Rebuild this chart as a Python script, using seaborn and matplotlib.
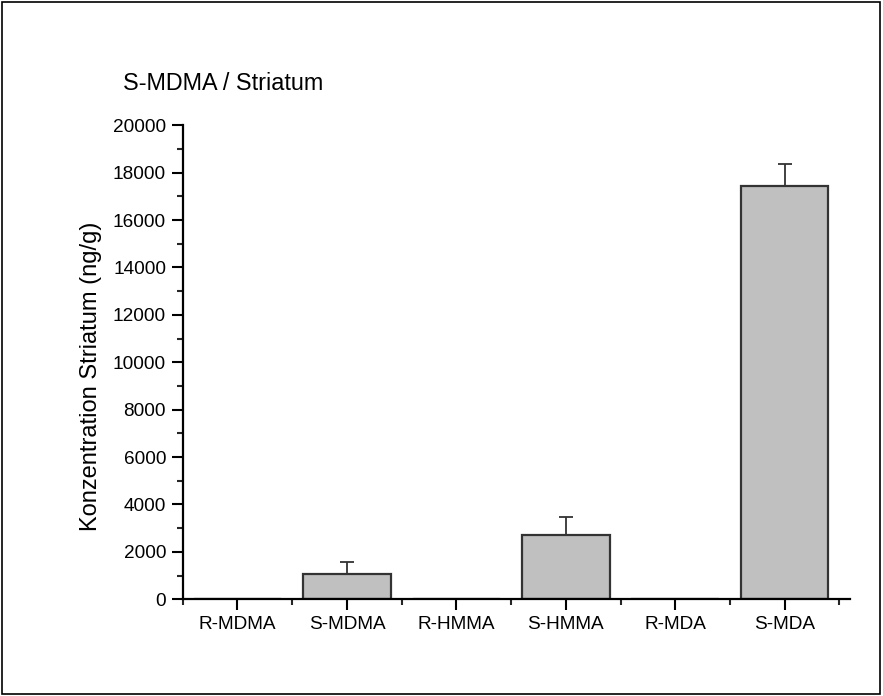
import seaborn as sns
import matplotlib.pyplot as plt
import numpy as np
import pandas as pd
from matplotlib.ticker import MultipleLocator, FixedLocator
from matplotlib.patches import Rectangle

categories = ["R-MDMA", "S-MDMA", "R-HMMA", "S-HMMA", "R-MDA", "S-MDA"]
values = [0, 1080, 0, 2720, 0, 17450]
errors = [0, 480, 0, 750, 0, 920]

df = pd.DataFrame({"Substanz": categories, "Konz": values})

sns.set_style("ticks")
plt.rcParams['font.family'] = ['Liberation Sans', 'DejaVu Sans']
plt.rcParams['text.color'] = 'black'
plt.rcParams['axes.labelcolor'] = 'black'

fig = plt.figure(figsize=(8.83, 6.96), dpi=100)
ax = fig.add_axes([0.207, 0.139, 0.756, 0.681])

sns.barplot(data=df, x="Substanz", y="Konz", color="#c0c0c0", saturation=1,
            edgecolor="#333333", linewidth=1.6, width=0.8, errorbar=None, ax=ax)

# Fehlerbalken nur nach oben
x = np.arange(len(categories))
err = np.array(errors, dtype=float)
mask = err > 0
ax.errorbar(x[mask], np.array(values)[mask], yerr=[np.zeros(mask.sum()), err[mask]],
            fmt="none", ecolor="#333333", elinewidth=1.3, capsize=5, capthick=1.3)

ax.set_xlim(-0.5, 5.6)
ax.set_ylim(0, 20000)
ax.yaxis.set_major_locator(MultipleLocator(2000))
ax.yaxis.set_minor_locator(MultipleLocator(1000))
ax.xaxis.set_minor_locator(FixedLocator(np.arange(-0.5, 5.6, 1.0)))

sns.despine(ax=ax)
for s in ["left", "bottom"]:
    ax.spines[s].set_linewidth(1.6)
    ax.spines[s].set_color("black")

ax.tick_params(axis="both", which="major", direction="out", length=8, width=1.5,
               labelsize=13.7, colors="black", pad=4)
ax.tick_params(axis="both", which="minor", direction="out", length=4, width=1.5)
ax.set_xlabel("")
ax.set_ylabel("Konzentration Striatum (ng/g)", fontsize=17, labelpad=8, y=0.47)

fig.text(0.139, 0.871, "S-MDMA / Striatum", fontsize=16.8, ha="left", va="baseline")

# Rahmen um die ganze Abbildung
fig.patches.append(Rectangle((0.002, 0.003), 0.995, 0.994, transform=fig.transFigure,
                             fill=False, edgecolor="black", linewidth=1.2))

fig.savefig("out.png", dpi=100)
